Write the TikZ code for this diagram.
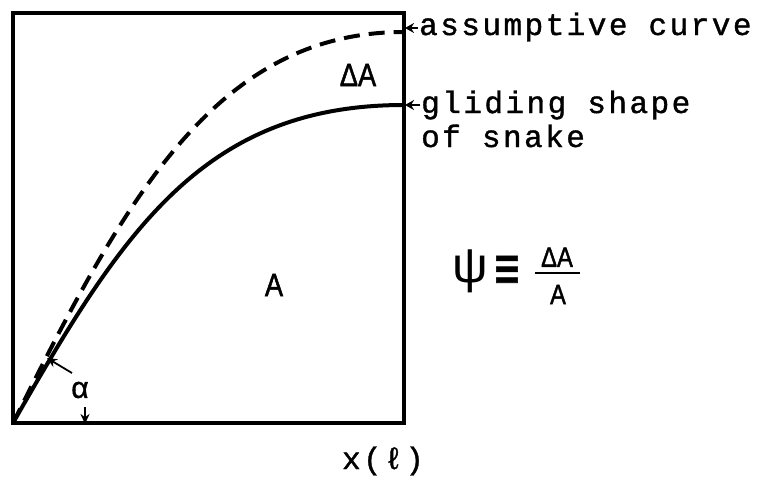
\documentclass[tikz,border=0pt]{standalone}
\usepackage{fontspec}
\setmainfont{Liberation Sans}[FakeBold=1.2]
\newfontfamily\tw{Liberation Mono}[LetterSpace=8,FakeBold=1.2]
\newfontfamily\sfb{Liberation Sans}[FakeBold=1.6]
\newfontfamily\sfl{Liberation Sans}
\newfontfamily\djv{DejaVu Sans}[FakeBold=1.2]
\usetikzlibrary{arrows.meta}
\begin{document}
\begin{tikzpicture}[x=1pt,y=-1pt,
  frame/.style={line width=3.6pt, line join=miter},
  solidcurve/.style={line width=4pt, line cap=round},
  dashcurve/.style={line width=4pt, dash pattern=on 16pt off 9pt},
  tlabel/.style={font=\tw\fontsize{31}{34}\selectfont, inner sep=0pt, anchor=base west},
  sflabel/.style={font=\sfb\fontsize{32}{32}\selectfont, inner sep=0pt},
  ptr/.style={line width=1.8pt, -{Stealth[length=10pt,width=9pt]}},
  smallptr/.style={line width=1.8pt, -{Stealth[length=9pt,width=10pt]}}]
\useasboundingbox (0,0) rectangle (766,482);
\fill[white] (0,0) rectangle (766,482);

% frame
\coordinate (O) at (13,423);
\coordinate (TL) at (13,13);
\coordinate (TR) at (404,13);
\coordinate (BR) at (404,423);
\draw[frame] (O) -- (TL) -- (TR) -- (BR) -- cycle;

% curves
\coordinate (dEnd) at (404,32);
\coordinate (sEnd) at (404,105);
\draw[dashcurve] (O) .. controls (123,203) and (214,32) .. (dEnd);
\draw[solidcurve] (O) .. controls (123,230) and (204,105) .. (sEnd);

% labels inside
\node[sflabel] (dA) at (358,75) {\scalebox{0.85}[1]{ΔA}};
\node[sflabel] (Aa) at (274,285) {\scalebox{0.85}[1]{A}};

% angle alpha
\node[font=\fontsize{30}{30}\selectfont, inner sep=0pt] (alpha) at (80,390) {α};
\coordinate (aTail) at (72,373);
\coordinate (aHead) at (47,358);
\draw[ptr] (aTail) -- (aHead);
\coordinate (bTail) at (85,407);
\coordinate (bHead) at (85,424);
\draw[ptr] (bTail) -- (bHead);

% right labels
\node[tlabel] (l1) at (419,35) {assumptive curve};
\node[tlabel] (l2) at (421,113) {gliding shape};
\node[tlabel] (l3) at (421,147) {of snake};
\coordinate (p1) at (405,28);
\coordinate (p2) at (405,105);
\draw[smallptr] (l1.west |- p1) ++(-1,0) -- (p1);
\draw[smallptr] (l2.west |- p2) ++(-1,0) -- (p2);

% formula
\node[font=\sfl\fontsize{50}{50}\selectfont, inner sep=0pt] (psi) at (470,271) {ψ};
\node[font=\djv\fontsize{40}{40}\selectfont, inner sep=0pt] (eq) at (507,272) {\scalebox{0.85}[1.5]{≡}};
\node[font=\sfb\fontsize{28}{28}\selectfont, inner sep=0pt, text depth=0pt, anchor=south] (num) at (557,267) {\scalebox{0.85}[1]{ΔA}};
\node[font=\sfb\fontsize{28}{28}\selectfont, inner sep=0pt, text height=20pt, anchor=north] (den) at (558,284) {\scalebox{0.85}[1]{A}};
\coordinate (barL) at (535,273);
\coordinate (barR) at (580,273);
\draw[line width=2.6pt] (barL) -- (barR);

% x axis label
\node[font=\tw\fontsize{31}{31}\selectfont, inner sep=0pt] (xl) at (383,461) {x(ℓ)};
\end{tikzpicture}
\end{document}
